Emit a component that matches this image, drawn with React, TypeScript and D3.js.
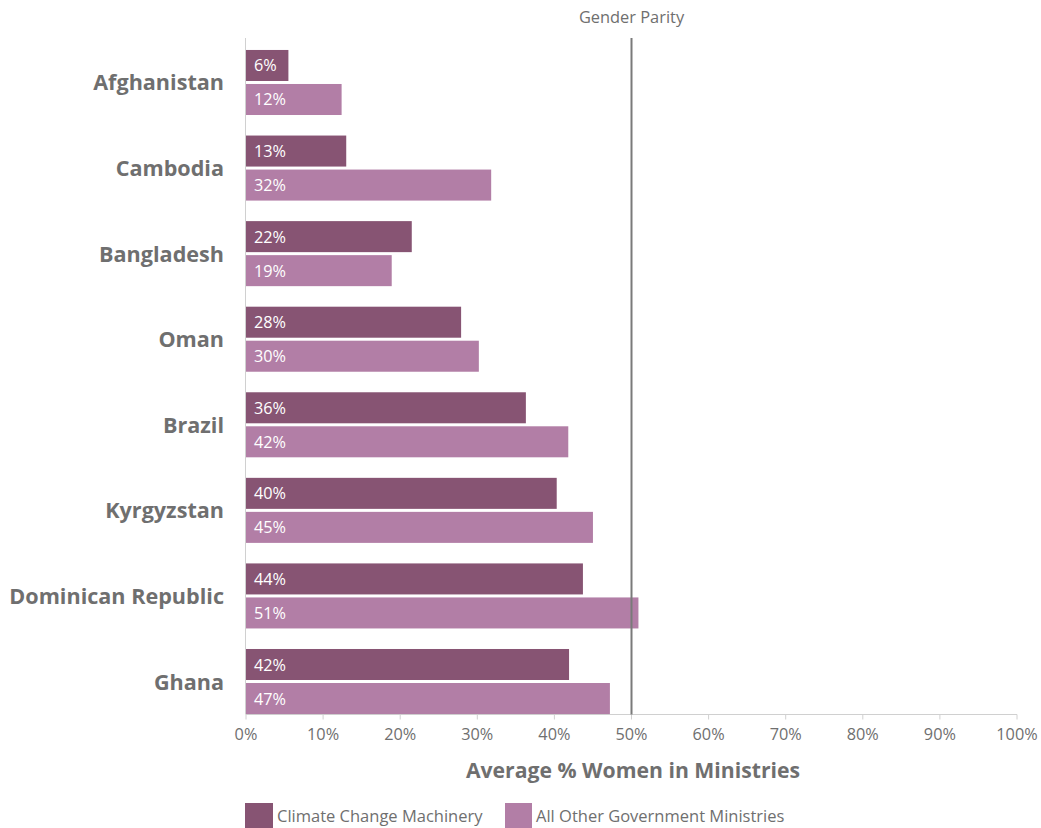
import React from "react";
import * as d3 from "d3";

const countries = ["Afghanistan", "Cambodia", "Bangladesh", "Oman", "Brazil", "Kyrgyzstan", "Dominican Republic", "Ghana"];
const climateValues = [5.5, 13.0, 21.5, 27.9, 36.3, 40.3, 43.7, 41.9];
const otherValues = [12.4, 31.8, 18.9, 30.2, 41.8, 45.0, 50.9, 47.2];
const xTicks = [0, 10, 20, 30, 40, 50, 60, 70, 80, 90, 100];
const seriesNames = ["Climate Change Machinery", "All Other Government Ministries"];
const parityValue = 50;

const W = 1041;
const H = 828;
const DARK = "#875473";
const LIGHT = "#b27ea6";
const GRAY = "#6f6f6f";
const FONT = "'Open Sans', 'Noto Sans', sans-serif";

export default function App() {
  const x = d3.scaleLinear().domain([0, 100]).range([246, 1017]);
  const y = d3.scaleBand<string>().domain(countries).range([39.7, 724.3]).paddingInner(0.24).paddingOuter(0.12);
  const bw = y.bandwidth();
  const gap = 3;
  const bh = (bw - gap) / 2;
  const axisY = 714.5;

  return (
    <svg width={W} height={H} style={{ position: "absolute", left: 0, top: 0, background: "#fff" }} fontFamily={FONT}>
      <line x1={x(0) - 0.5} x2={x(0) - 0.5} y1={38} y2={axisY} stroke="#d0d0d0" strokeWidth={1} />
      <line x1={x(0)} x2={x(100)} y1={axisY} y2={axisY} stroke="#d0d0d0" strokeWidth={1} />
      {xTicks.map((t) => (
        <g key={t}>
          <line x1={x(t)} x2={x(t)} y1={axisY} y2={axisY + 5} stroke="#d0d0d0" strokeWidth={1} />
          <text x={x(t)} y={740} textAnchor="middle" fontSize={16.3} fill={GRAY}>{`${t}%`}</text>
        </g>
      ))}
      {countries.map((c, i) => {
        const y0 = y(c)!;
        return (
          <g key={c}>
            <rect x={x(0)} y={y0} width={x(climateValues[i]) - x(0)} height={bh} fill={DARK} />
            <rect x={x(0)} y={y0 + bh + gap} width={x(otherValues[i]) - x(0)} height={bh} fill={LIGHT} />
            <text x={x(0) + 8} y={y0 + bh / 2 + 6} fontSize={16.3} fill="#fff">{`${Math.round(climateValues[i])}%`}</text>
            <text x={x(0) + 8} y={y0 + bh + gap + bh / 2 + 6} fontSize={16.3} fill="#fff">{`${Math.round(otherValues[i])}%`}</text>
            <text x={224} y={y0 + bw / 2 + 8} textAnchor="end" fontSize={21.6} fontWeight="bold" fill={GRAY}>{c}</text>
          </g>
        );
      })}
      <line x1={x(parityValue)} x2={x(parityValue)} y1={38} y2={axisY} stroke="#7a7a7a" strokeWidth={2} />
      <text x={x(parityValue)} y={23} textAnchor="middle" fontSize={16.4} fill={GRAY}>Gender Parity</text>
      <text x={633} y={778} textAnchor="middle" fontSize={21.2} fontWeight="bold" fill={GRAY}>Average % Women in Ministries</text>
      <rect x={245} y={803} width={28} height={25} fill={DARK} />
      <text x={277} y={822} fontSize={16.5} fill={GRAY}>{seriesNames[0]}</text>
      <rect x={505} y={803} width={27} height={25} fill={LIGHT} />
      <text x={536} y={822} fontSize={16.5} fill={GRAY}>{seriesNames[1]}</text>
    </svg>
  );
}
